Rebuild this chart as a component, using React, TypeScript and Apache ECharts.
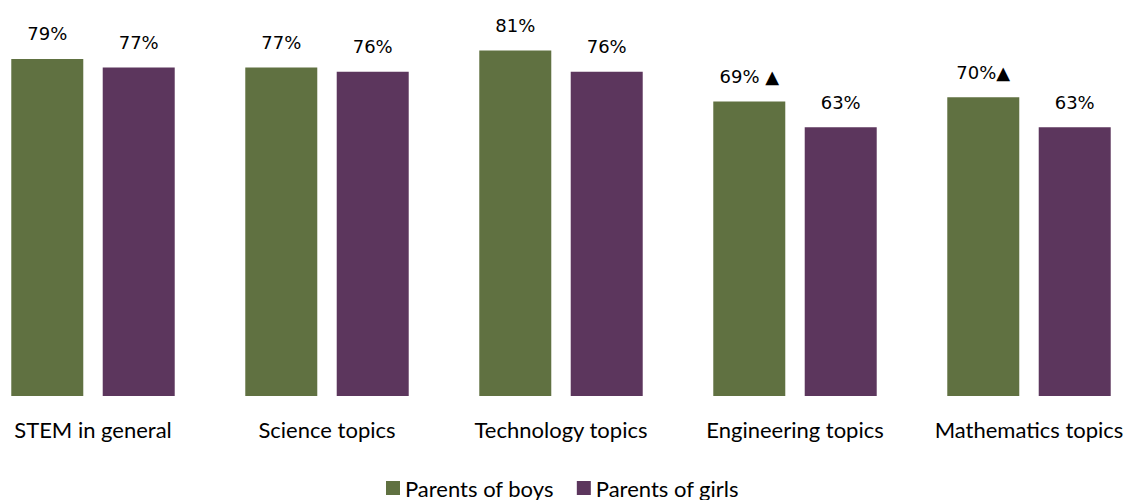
import React, { useEffect, useRef } from "react";
import * as echarts from "echarts";

const categories = [
  "STEM in general",
  "Science topics",
  "Technology topics",
  "Engineering topics",
  "Mathematics topics",
];
const boysValues = [79, 77, 81, 69, 70];
const girlsValues = [77, 76, 76, 63, 63];
const boysLabels = ["79%", "77%", "81%", "69% ▲", "70%▲"];
const girlsLabels = ["77%", "76%", "76%", "63%", "63%"];
const seriesNames = ["Parents of boys", "Parents of girls"];

const GREEN = "#607141";
const PURPLE = "#5C365D";

export default function App() {
  const ref = useRef<HTMLDivElement>(null);
  useEffect(() => {
    if (!ref.current) return;
    const chart = echarts.init(ref.current, null, { renderer: "svg" });
    const labelStyle = {
      show: true,
      position: "top" as const,
      distance: 16,
      fontFamily: "DejaVu Sans",
      fontSize: 18,
      color: "#000",
    };
    chart.setOption({
      animation: false,
      grid: { left: 0, right: 0, top: 12, bottom: 104 },
      legend: {
        data: seriesNames,
        top: 472,
        left: 405,
        itemWidth: 14,
        itemHeight: 14,
        itemGap: 23,
        icon: "rect",
        textStyle: { fontFamily: "Lato", fontSize: 22, color: "#000" },
      },
      xAxis: {
        type: "category",
        data: categories,
        axisLine: { show: false },
        axisTick: { show: false },
        axisLabel: {
          interval: 0,
          margin: 22,
          fontFamily: "Lato",
          fontSize: 22,
          color: "#000",
        },
      },
      yAxis: { type: "value", min: 0, max: 90, show: false, splitLine: { show: false } },
      series: [
        {
          name: seriesNames[0],
          type: "bar",
          data: boysValues,
          barWidth: 72,
          barGap: "27%",
          itemStyle: { color: GREEN },
          label: { ...labelStyle, formatter: (p: any) => boysLabels[p.dataIndex] },
        },
        {
          name: seriesNames[1],
          type: "bar",
          data: girlsValues,
          barWidth: 72,
          itemStyle: { color: PURPLE },
          label: { ...labelStyle, formatter: (p: any) => girlsLabels[p.dataIndex] },
        },
      ],
    });
    return () => chart.dispose();
  }, []);
  return (
    <div
      style={{
        position: "fixed",
        left: 0,
        top: 0,
        width: 1129,
        height: 500,
        overflow: "hidden",
        background: "#fff",
      }}
    >
      <div
        ref={ref}
        style={{ position: "absolute", left: -24, top: 0, width: 1170, height: 500 }}
      />
    </div>
  );
}
